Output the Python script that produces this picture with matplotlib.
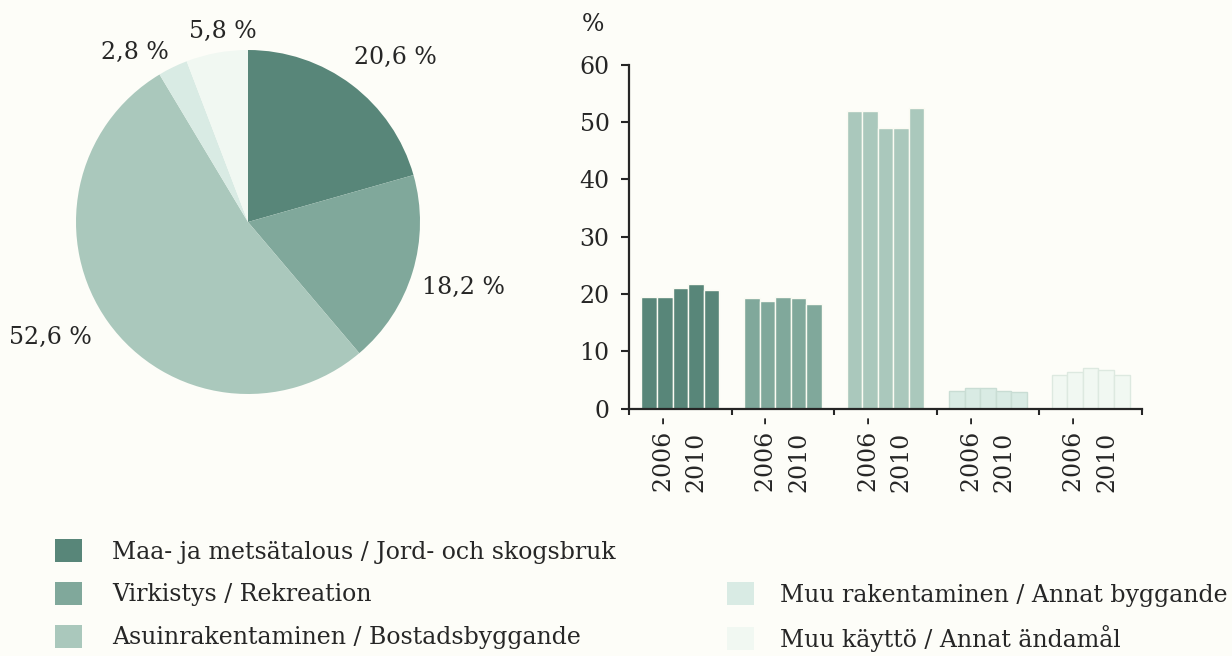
import matplotlib.pyplot as plt
import numpy as np
from matplotlib.patches import Rectangle
from matplotlib.transforms import blended_transform_factory

# Luokat / kategorier
categories = [
    "Maa- ja metsätalous / Jord- och skogsbruk",
    "Virkistys / Rekreation",
    "Asuinrakentaminen / Bostadsbyggande",
    "Muu rakentaminen / Annat byggande",
    "Muu käyttö / Annat ändamål",
]

# Piirakka (2010)
pie_values = [20.6, 18.2, 52.6, 2.8, 5.8]
pie_labels = ["20,6 %", "18,2 %", "52,6 %", "2,8 %", "5,8 %"]

# Pylväät 2006-2010, %
years = [2006, 2007, 2008, 2009, 2010]
maa = [19.5, 19.5, 21.0, 21.7, 20.6]
virkistys = [19.2, 18.8, 19.5, 19.2, 18.3]
asuin = [51.9, 51.9, 48.9, 48.9, 52.4]
muu_rak = [3.1, 3.5, 3.5, 3.1, 2.8]
muu_kaytto = [5.9, 6.4, 7.1, 6.7, 5.8]
series = [maa, virkistys, asuin, muu_rak, muu_kaytto]
year_labels = ["2006 -", "2010"]

colors = ["#588679", "#80a89b", "#aac8bc", "#d9ebe4", "#f1f8f2"]
edge = ["#fbfbf3", "#fbfbf3", "#fbfbf3", "#c9ddd4", "#dde9e0"]
bg = "#fdfdf8"
txt = "#262626"
fs = 17

plt.rcParams['font.family'] = ['DejaVu Serif']
plt.rcParams['text.color'] = txt

W, H = 1232, 656
fig = plt.figure(figsize=(W / 100, H / 100), dpi=100)
fig.patch.set_facecolor(bg)

# --- piirakka ---
cx, cy, r = 248, 222, 172
axp = fig.add_axes([(cx - r) / W, 1 - (cy + r) / H, 2 * r / W, 2 * r / H])
axp.pie(pie_values, colors=colors, startangle=90, counterclock=False,
        radius=1, wedgeprops=dict(linewidth=0))
axp.set_xlim(-1, 1)
axp.set_ylim(-1, 1)
axp.set_aspect('equal')
label_pos = [(0.855, 0.959), (1.250, -0.378), (-1.151, -0.669),
             (-0.657, 0.983), (-0.145, 1.110)]
for lab, (x, y) in zip(pie_labels, label_pos):
    axp.text(x, y, lab, ha='center', va='center', fontsize=fs)

# --- pylväät ---
x0, x1, y0, y1 = 629, 1142, 408.5, 64.7
axb = fig.add_axes([x0 / W, 1 - y0 / H, (x1 - x0) / W, (y0 - y1) / H])
axb.set_facecolor(bg)
bw = 0.152
for g, vals in enumerate(series):
    xs = g + 0.5 + (np.arange(len(years)) - 2) * bw
    axb.bar(xs, vals, width=bw, color=colors[g], edgecolor=edge[g],
            linewidth=1.0)

axb.set_xlim(0, 5)
axb.set_ylim(0, 60)
axb.set_yticks(range(0, 61, 10))
axb.set_xticks(range(0, 6))
axb.set_xticklabels([])
for s in ['top', 'right']:
    axb.spines[s].set_visible(False)
for s in ['left', 'bottom']:
    axb.spines[s].set_linewidth(1.6)
    axb.spines[s].set_color(txt)
axb.tick_params(axis='y', length=6, width=1.5, labelsize=fs, pad=8, colors=txt)
axb.tick_params(axis='x', length=4, width=1.5, colors=txt)
pct = axb.text(-0.35, 67, "%", ha='center', va='center', fontsize=fs,
               transform=axb.transData)
pct.set_clip_on(False)

tr = blended_transform_factory(axb.transData, axb.transAxes)
for g in range(len(series)):
    for k, lab in enumerate(year_labels):
        axb.text(g + 0.5 + (k * 2 - 1) * 0.155, -84 / (y0 - y1), lab,
                 rotation=90, ha='center', va='bottom', fontsize=fs,
                 transform=tr)

# --- selite ---
handles = [Rectangle((0, 0), 1, 1, facecolor=c, edgecolor='none') for c in colors]
leg_kw = dict(frameon=False, fontsize=fs, handlelength=1.14, handleheight=1.14,
              handletextpad=1.1, labelspacing=0.77, borderpad=0,
              borderaxespad=0, loc='upper left')
fig.legend(handles[:3], categories[:3],
           bbox_to_anchor=(55 / W, 1 - 539 / H),
           **{**leg_kw, 'handletextpad': 1.27})
fig.legend(handles[3:], categories[3:],
           bbox_to_anchor=(727 / W, 1 - 582 / H), **leg_kw)

fig.savefig("out.png", dpi=100, facecolor=bg)
